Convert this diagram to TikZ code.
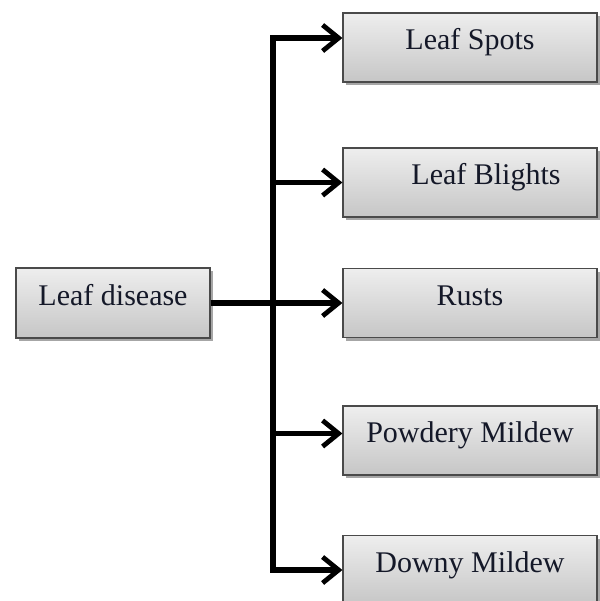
\documentclass[tikz,border=0pt]{standalone}
\usepackage{fontspec}
\setmainfont{Liberation Serif}
\usetikzlibrary{arrows.meta, shadows, positioning}
\definecolor{ld-edge}{HTML}{4A4A4A}
\definecolor{ld-top}{HTML}{EEEEEE}
\definecolor{ld-bottom}{HTML}{C6C6C6}
\definecolor{ld-text}{HTML}{141828}

\begin{document}
\begin{tikzpicture}[
    x=0.5pt, y=-0.5pt,
    box/.style={draw=ld-edge, line width=0.6pt, top color=ld-top, bottom color=ld-bottom,
                minimum width=127pt, minimum height=34.5pt, inner sep=0pt,
                text height=10.5pt, text depth=8.5pt,
                text=ld-text, font=\fontsize{15}{18}\selectfont,
                drop shadow={shadow xshift=1.6pt, shadow yshift=-1.6pt, fill=black, opacity=0.35}},
    conn/.style={-{Straight Barb[length=8pt, width=13pt, line width=2.4pt]}, line width=2.6pt, line join=miter}
]
\useasboundingbox (0,0) rectangle (600,601);
\clip (0,0) rectangle (600,601);

% source
\node[box, minimum width=97pt, minimum height=35pt] (disease) at (113,303) {Leaf disease};

% kinds of leaf disease
\node[box] (spots)    at (470,47.5)  {Leaf Spots};
\node[box] (blights)  at (470,182.5) {\hspace*{16pt}Leaf Blights};
\node[box] (rusts)    at (470,303)   {Rusts};
\node[box] (powdery)  at (470,440.5) {Powdery Mildew};
\node[box] (downy)    at (470,570)   {Downy Mildew};

% spine
\coordinate (spinetop) at (273,38);
\coordinate (spinebot) at (273,570);

\draw[conn, {Straight Barb[length=8pt, width=13pt, line width=2.4pt]}-{Straight Barb[length=8pt, width=13pt, line width=2.4pt]}]
    (spots.west |- spinetop) -| (spinebot) -- (downy.west |- spinebot);
\draw[conn] (spinetop |- blights) -- (blights.west);
\draw[conn] ([yshift=3.5pt]spinetop |- powdery) -- ([yshift=3.5pt]powdery.west);
\draw[conn] (disease.east) -- (rusts.west);

\end{tikzpicture}
\end{document}
